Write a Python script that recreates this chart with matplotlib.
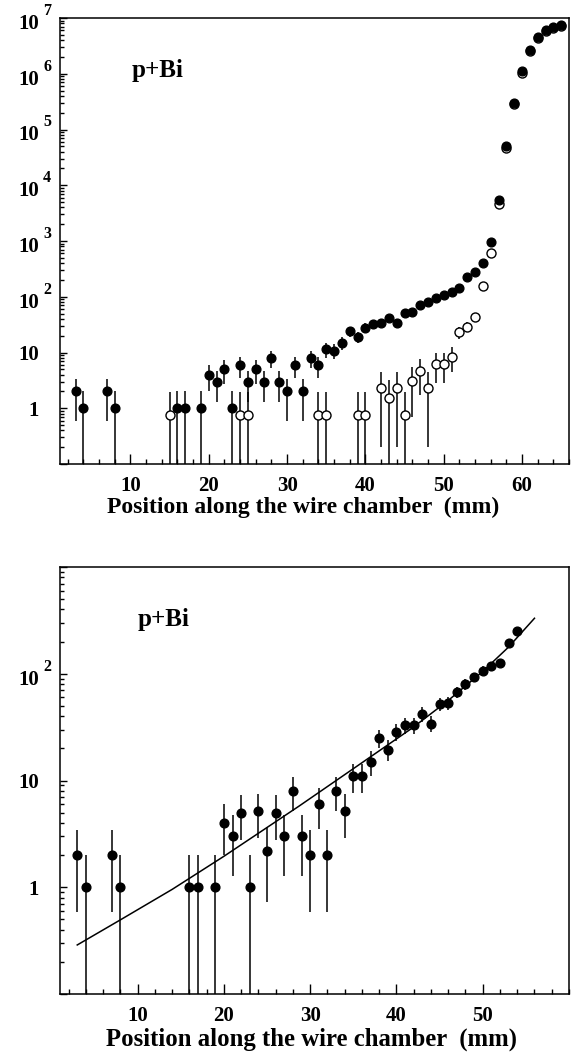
import matplotlib
matplotlib.use('Agg')
import matplotlib.pyplot as plt
import matplotlib.transforms as mtransforms
from matplotlib.ticker import MultipleLocator, FixedLocator, LogLocator, NullFormatter

plt.rcParams['font.family'] = 'Liberation Serif'
plt.rcParams['font.weight'] = 'bold'

# ---- top panel: all hits (filled) and second selection (open)
top_x = [3, 4, 7, 8, 16, 17, 19, 20, 21, 22, 23, 24, 25, 26, 27, 28, 29, 30, 31, 32,
         33, 34, 35, 36, 37, 38, 39, 40, 41, 42, 43, 44, 45, 46, 47, 48, 49, 50, 51, 52,
         53, 54, 55, 56, 57, 58, 59, 60, 61, 62, 63, 64, 65]
top_y = [2, 1, 2, 1, 1, 1, 1, 4, 3, 5, 1, 6, 3, 5, 3, 8, 3, 2, 6, 2,
         8, 6, 11.5, 10.8, 15, 24, 19, 28, 32, 34, 41, 34, 52, 54, 70, 82, 94, 107, 123, 141,
         223, 282, 398, 973, 5430, 50600, 303000, 1.12e6, 2.67e6, 4.5e6, 6.1e6, 7.0e6, 7.5e6]
top_err = [1.41, 1, 1.41, 1, 1, 1, 1, 2, 1.73, 2.24, 1, 2.45, 1.73, 2.24, 1.73, 2.83, 1.73, 1.41, 2.45, 1.41,
           2.83, 2.45, 3.4, 3.3, 3.9, 4.9, 4.4, 5.3, 5.7, 5.8, 6.4, 5.8, 7.2, 7.3, 8.4, 9.1, 9.7, 10.3, 11.1, 11.9,
           14.9, 16.8, 20, 31, 74, 225, 550, 1060, 1630, 2120, 2470, 2650, 2740]

open_x = [15, 24, 25, 34, 35, 39, 40, 42, 43, 44, 45, 46, 47, 48, 49, 50, 51, 52, 53, 54,
          55, 56, 57, 58, 59, 60, 61, 62, 63, 64, 65]
open_y = [0.77, 0.77, 0.77, 0.77, 0.77, 0.77, 0.77, 2.3, 1.55, 2.3, 0.77, 3.1, 4.6, 2.3, 6.2, 6.2, 8.4, 23, 29, 44,
          156, 600, 4600, 46000, 285000, 1.05e6, 2.55e6, 4.3e6, 5.8e6, 6.7e6, 7.2e6]
open_err = [1.21, 1.21, 1.21, 1.21, 1.21, 1.21, 1.21, 2.1, 1.7, 2.1, 1.21, 2.4, 2.9, 2.1, 3.4, 3.4, 4.0, 5.5, 6, 7,
            12, 25, 70, 220, 530, 1000, 1600, 2000, 2400, 2600, 2700]

# ---- bottom panel: filled points and fit curve
bot_x = [3, 4, 7, 8, 16, 17, 19, 20, 21, 22, 23, 24, 25, 26, 27, 28, 29, 30, 31, 32,
         33, 34, 35, 36, 37, 38, 39, 40, 41, 42, 43, 44, 45, 46, 47, 48, 49, 50, 51, 52,
         53, 54]
bot_y = [2, 1, 2, 1, 1, 1, 1, 4, 3, 5, 1, 5.2, 2.2, 5, 3, 8, 3, 2, 6, 2,
         8, 5.2, 11, 11, 15, 25, 19.5, 28.5, 33, 33, 42, 34, 52, 53, 67, 80, 93, 107, 117, 126,
         196, 249]
bot_err = [1.41, 1, 1.41, 1, 1, 1, 1, 2, 1.73, 2.24, 1, 2.28, 1.48, 2.24, 1.73, 2.83, 1.73, 1.41, 2.45, 1.41,
           2.83, 2.28, 3.3, 3.3, 3.9, 5, 4.4, 5.3, 5.7, 5.7, 6.5, 5.8, 7.2, 7.3, 8.2, 9, 9.6, 10.3, 10.8, 11.2,
           14, 15.8]
fit_x = [3, 8, 14, 20, 28.7, 35, 41.8, 46, 50, 53, 56]
fit_y = [0.288, 0.495, 0.955, 1.95, 5.75, 12.9, 30.9, 56.2, 105, 178, 331]

W, H = 573, 1057
fig = plt.figure(figsize=(W / 100, H / 100), dpi=100)
ax1 = fig.add_axes([60 / W, 1 - 464 / H, 509 / W, 446 / H])
ax2 = fig.add_axes([60 / W, 1 - 994 / H, 509 / W, 427 / H])

FS = 15


def style(ax, xmin, xmax, ymin, ymax, xmajor, decades, label_fs, label_x):
    ax.set_yscale('log')
    ax.set_xlim(xmin, xmax)
    ax.set_ylim(ymin, ymax)
    for s in ax.spines.values():
        s.set_linewidth(1.1)
    ax.xaxis.set_major_locator(FixedLocator(xmajor))
    ax.xaxis.set_minor_locator(MultipleLocator(2))
    ax.yaxis.set_major_locator(LogLocator(base=10, numticks=20))
    ax.yaxis.set_minor_locator(LogLocator(base=10, subs=range(2, 10), numticks=20))
    ax.yaxis.set_major_formatter(NullFormatter())
    ax.yaxis.set_minor_formatter(NullFormatter())
    ax.tick_params(axis='x', which='major', direction='in', length=7, width=1, labelsize=FS, pad=8.5)
    ax.tick_params(axis='x', which='minor', direction='in', length=3.5, width=1)
    ax.tick_params(axis='y', which='major', direction='in', length=5, width=1)
    ax.tick_params(axis='y', which='minor', direction='in', length=3, width=1)
    ax.set_xlabel('Position along the wire chamber  (mm)', fontsize=label_fs, fontweight='bold', labelpad=1)
    ax.xaxis.label.set_x(label_x)
    trans = mtransforms.blended_transform_factory(ax.transAxes, ax.transData)
    for p in decades:
        if p <= 1:
            ax.annotate('1' if p == 0 else '10', xy=(0, 10 ** p), xycoords=trans,
                        xytext=(-21, -3), textcoords='offset pixels',
                        ha='right', va='center', fontsize=FS, fontweight='bold')
        else:
            ax.annotate('10', xy=(0, 10 ** p), xycoords=trans,
                        xytext=(-21, -6), textcoords='offset pixels',
                        ha='right', va='center', fontsize=FS, fontweight='bold')
            ax.annotate(str(p), xy=(0, 10 ** p), xycoords=trans,
                        xytext=(-17, 7), textcoords='offset pixels',
                        ha='left', va='center', fontsize=11.5, fontweight='bold')


style(ax1, 1, 66, 0.1, 1e7, [10, 20, 30, 40, 50, 60], range(0, 8), 17, 0.477)
ax1.errorbar(open_x, open_y, yerr=open_err, fmt='o', ms=6.5, mfc='white', mec='black',
             mew=1, ecolor='black', elinewidth=1.1, capsize=0, zorder=3)
ax1.errorbar(top_x, top_y, yerr=top_err, fmt='o', ms=6.3, color='black',
             elinewidth=1.1, capsize=0, zorder=4)
ax1.text(0.141, 0.883, 'p+Bi', transform=ax1.transAxes, fontsize=18, fontweight='bold',
         ha='left', va='center')

style(ax2, 1, 60, 0.1, 1000, [10, 20, 30, 40, 50], range(0, 3), 17.8, 0.495)
ax2.errorbar(bot_x, bot_y, yerr=bot_err, fmt='o', ms=6.3, color='black',
             elinewidth=1.1, capsize=0, zorder=4)
ax2.plot(fit_x, fit_y, color='black', lw=1.1, zorder=3)
ax2.text(0.153, 0.878, 'p+Bi', transform=ax2.transAxes, fontsize=18, fontweight='bold',
         ha='left', va='center')

fig.savefig('out.png', dpi=100)
